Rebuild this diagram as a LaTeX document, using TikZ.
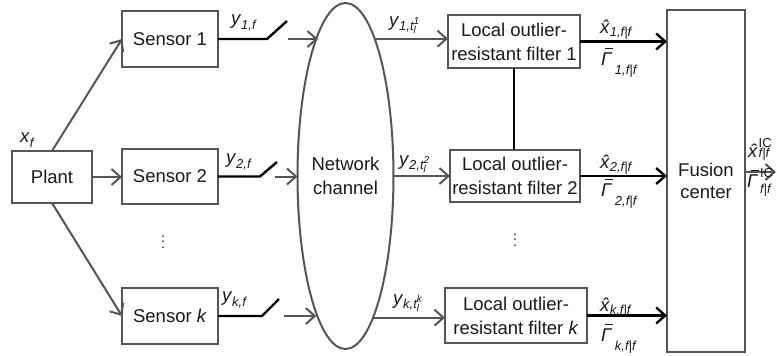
\documentclass[tikz,border=0pt]{standalone}
\usepackage{fontspec}
\setmainfont{Liberation Sans}
\usetikzlibrary{arrows.meta,shapes.geometric}

\definecolor{edgegray}{HTML}{555555}
\definecolor{inkblack}{HTML}{1A1A1A}

% type sizes
\newcommand\mainsize{\fontsize{18.5}{24}\selectfont}
\newcommand\subsz{\fontsize{13}{13}\selectfont}
\newcommand\tinysz{\fontsize{10}{10}\selectfont}

% symbols built from text glyphs
\newcommand\xhat{\rlap{\kern0.13em\textit{ˆ}}\textit{x}}
\newcommand\gbar{\rlap{\kern0.2em\rule[0.84em]{0.44em}{0.07em}}\textit{Γ}}
\newcommand\lowsub[2][0.28em]{\raisebox{-#1}{\subsz\itshape #2}}
\newcommand\tlab[1]{t\raisebox{-0.22em}{\rlap{\tinysz\itshape l}}\raisebox{0.45em}{\tinysz\itshape #1}}
\newcommand\threedots{\vbox{\baselineskip5.5pt\lineskiplimit0pt\hbox{.}\hbox{.}\hbox{.}}}

\tikzset{
  blk/.style={draw=edgegray, line width=2pt, rectangle, inner sep=0pt, outer sep=0pt,
    text=inkblack, font=\mainsize, align=center},
  gline/.style={draw=edgegray, line width=2pt},
  garrow/.style={gline, -{Straight Barb[length=9pt,width=16pt]}},
  kline/.style={draw=black, line width=2.4pt},
  karrow/.style={kline, -{Straight Barb[length=9pt,width=16pt]}},
  lab/.style={inner sep=0pt, outer sep=0pt, text=inkblack, anchor=base west, font=\mainsize},
}

\begin{document}
\begin{tikzpicture}[x=1pt, y=-1pt]
  \fill[white] (0,0) rectangle (777,356);
  \useasboundingbox (0,0) rectangle (777,356);

  % blocks
  \node[blk, minimum width=80pt, minimum height=52pt] (plant) at (52,177) {Plant};
  \node[blk, minimum width=96pt, minimum height=56pt] (s1) at (170,39) {Sensor 1};
  \node[blk, minimum width=96pt, minimum height=55pt] (s2) at (170,176.5) {Sensor 2};
  \node[blk, minimum width=96pt, minimum height=56pt] (sk) at (170,316) {Sensor \textit{k}};
  \node[blk, ellipse, minimum width=95pt, minimum height=346pt] (net) at (345.5,176) {Network\\channel};
  \node[blk, minimum width=132pt, minimum height=53pt] (f1) at (514,41.5) {Local outlier-\\resistant filter 1};
  \node[blk, minimum width=130pt, minimum height=52pt] (f2) at (515,176) {Local outlier-\\resistant filter 2};
  \node[blk, minimum width=142pt, minimum height=55pt] (fk) at (516,315.5) {Local outlier-\\resistant filter \textit{k}};
  \node[blk, minimum width=78pt, minimum height=342pt, font=\fontsize{18.5}{22}\selectfont] (fc) at (706,181) {Fusion\\center};

  \node[inner sep=0pt, font=\fontsize{14}{14}\selectfont, text=inkblack] (dots1) at (163,242) {\threedots};
  \node[inner sep=0pt, font=\fontsize{14}{14}\selectfont, text=inkblack] (dots2) at (515,240) {\threedots};

  % plant to sensors
  \draw[garrow] (plant.north) -- (s1.west);
  \draw[garrow] (plant.east) -- (plant.east -| s2.west);
  \draw[garrow] (plant.south) -- (sk.west);

  % sensor outputs through switches into the channel
  \coordinate (s1a) at (267,39);  \coordinate (s1b) at (287,21);  \coordinate (s1c) at (288,39);
  \coordinate (s2a) at (260,176.5); \coordinate (s2b) at (277,162); \coordinate (s2c) at (275,176.5);
  \coordinate (ska) at (262,316); \coordinate (skb) at (279,299); \coordinate (skc) at (284,316);
  \draw[kline] (s1.east) -- (s1a) -- (s1b);
  \draw[kline] (s2.east) -- (s2a) -- (s2b);
  \draw[kline] (sk.east) -- (ska) -- (skb);
  \draw[garrow] (s1c) -- (s1c -| net.101.95);
  \draw[garrow] (s2c) -- (s2c -| net.west);
  \draw[garrow] (skc) -- (skc -| net.258.96);

  % channel to local filters
  \draw[garrow] (net.78.05) -- (net.78.05 -| f1.west);
  \draw[garrow] (net.east) -- (net.east -| f2.west);
  \draw[garrow] (net.281.04) -- (net.281.04 -| fk.west);

  % link between filters 1 and 2
  \draw[kline] (f1.south) -- (f1.south |- f2.north);

  % filters to fusion center
  \draw[karrow] (f1.east) -- (f1.east -| fc.west);
  \draw[karrow] (f2.east) -- (f2.east -| fc.west);
  \draw[karrow] (fk.east) -- (fk.east -| fc.west);

  % fused output
  \coordinate (out) at (776,172);
  \draw[garrow] (fc.east |- out) -- (out);

  % labels
  \node[lab] (lxf) at (20,142) {\textit{x}\lowsub{f}};
  \node[lab] (ly1) at (231,24) {\textit{y}\lowsub{1,f}};
  \node[lab] (ly2) at (226,163) {\textit{y}\lowsub{2,f}};
  \node[lab] (lyk) at (222,301) {\textit{y}\lowsub{k,f}};
  \node[lab] (lt1) at (389,26) {\textit{y}\lowsub[0.25em]{1,\tlab{1}}};
  \node[lab] (lt2) at (399,165) {\textit{y}\lowsub[0.25em]{2,\tlab{2}}};
  \node[lab] (ltk) at (393,304) {\textit{y}\lowsub[0.25em]{k,\tlab{k}}};
  \node[lab] (lx1) at (600,33) {\xhat\lowsub[0.2em]{1,f|f}};
  \node[lab] (lx2) at (600,168) {\xhat\lowsub[0.2em]{2,f|f}};
  \node[lab] (lxk) at (600,311) {\xhat\lowsub[0.2em]{k,f|f}};
  \node[lab] (lg1) at (601,65) {\gbar\kern0.15em\lowsub[0.5em]{1,f|f}};
  \node[lab] (lg2) at (601,196) {\gbar\kern0.15em\lowsub[0.5em]{2,f|f}};
  \node[lab] (lgk) at (601,341) {\gbar\kern0.15em\lowsub[0.5em]{k,f|f}};
  \node[lab] (lxo) at (748,157) {\xhat\kern0.05em\raisebox{0.5em}{\rlap{\subsz IC}}\raisebox{-0.05em}{\subsz\itshape f|f}};
  \node[lab] (lgo) at (747,187) {\gbar\kern0.1em\raisebox{0.5em}{\rlap{\subsz IC}}\raisebox{-0.35em}{\subsz\itshape f|f}};
\end{tikzpicture}
\end{document}
